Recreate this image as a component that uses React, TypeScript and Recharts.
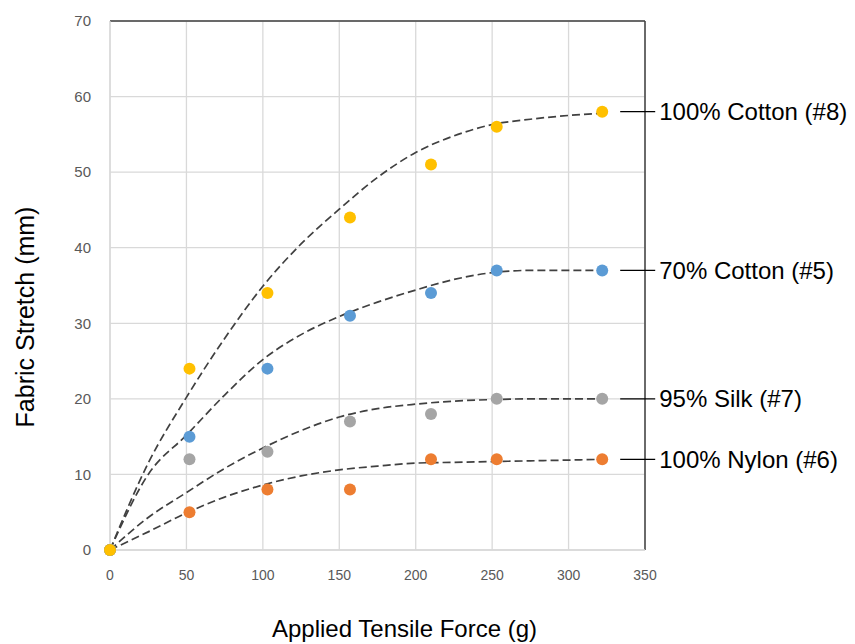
import { ComposedChart, Scatter, Line, XAxis, YAxis, CartesianGrid, ReferenceLine, Label } from "recharts";

const FONT = "'Liberation Sans', Arial, sans-serif";
const LINE = "#404040";

// measured points
const forceX = [0, 52, 103, 157, 210, 253, 322];
const cotton8 = [0, 24, 34, 44, 51, 56, 58];
const cotton5 = [0, 15, 24, 31, 34, 37, 37];
const silk7 = [0, 12, 13, 17, 18, 20, 20];
const nylon6 = [0, 5, 8, 8, 12, 12, 12];

// trendline values
const trendX = [0, 25, 50, 75, 100, 125, 150, 175, 200, 225, 250, 275, 300, 322];
const cotton8Trend = [0, 11.5, 20.2, 28, 34.9, 40.5, 45.1, 49.3, 52.6, 54.8, 56.3, 57, 57.5, 57.8];
const cotton5Trend = [0, 10, 15.2, 20.5, 25.2, 28.5, 30.9, 32.8, 34.4, 35.8, 36.7, 37, 37, 37];
const silk7Trend = [0, 4.3, 7.6, 10.8, 13.5, 15.8, 17.6, 18.7, 19.3, 19.7, 19.9, 20, 20, 20];
const nylon6Trend = [0, 2.4, 4.9, 7, 8.6, 9.8, 10.6, 11.1, 11.5, 11.6, 11.7, 11.8, 11.9, 12];

const xTicks = [0, 50, 100, 150, 200, 250, 300, 350];
const yTicks = [0, 10, 20, 30, 40, 50, 60, 70];

const series = [
  { name: "100% Nylon (#6)", color: "#ED7D31", values: nylon6, trend: nylon6Trend },
  { name: "95% Silk (#7)", color: "#A5A5A5", values: silk7, trend: silk7Trend },
  { name: "70% Cotton (#5)", color: "#5B9BD5", values: cotton5, trend: cotton5Trend },
  { name: "100% Cotton (#8)", color: "#FFC000", values: cotton8, trend: cotton8Trend },
];

const toPoints = (xs: number[], ys: number[]) => xs.map((x, i) => ({ x, y: ys[i] }));

const labelPoints = series.map((s) => ({
  x: forceX[forceX.length - 1],
  y: s.values[s.values.length - 1],
  name: s.name,
}));

const dot = (color: string) => (props: any) => (
  <circle cx={props.cx} cy={props.cy} r={6} fill={color} />
);

const endLabel = (props: any) => {
  const { cx, cy, payload } = props;
  return (
    <g>
      <line x1={cx + 18} x2={cx + 53} y1={cy} y2={cy} stroke="#000" strokeWidth={1.3} />
      <text x={cx + 57} y={cy} dy="0.35em" fontSize={24} fill="#000" fontFamily={FONT}>
        {payload.name}
      </text>
    </g>
  );
};

export default function App() {
  return (
    <div style={{ position: "fixed", left: 0, top: 0, background: "#fff" }}>
      <ComposedChart width={855} height={644} margin={{ top: 21, right: 210, bottom: 0, left: 0 }}>
        <CartesianGrid stroke="#D9D9D9" strokeWidth={1.3} />
        <XAxis
          type="number"
          dataKey="x"
          domain={[0, 350]}
          ticks={xTicks}
          height={94}
          axisLine={{ stroke: "#D9D9D9", strokeWidth: 1.3 }}
          tickLine={false}
          tickMargin={14}
          tick={{ fontSize: 14, fill: "#595959", fontFamily: FONT }}
        >
          <Label
            value="Applied Tensile Force (g)"
            position="insideBottom"
            offset={7}
            dx={27}
            style={{ fontSize: 24, fill: "#000", fontFamily: FONT }}
          />
        </XAxis>
        <YAxis
          type="number"
          dataKey="y"
          domain={[0, 70]}
          ticks={yTicks}
          width={110}
          axisLine={{ stroke: "#D9D9D9", strokeWidth: 1.3 }}
          tickLine={false}
          tickMargin={13}
          tick={{ fontSize: 15, fill: "#595959", fontFamily: FONT }}
        >
          <Label
            content={() => (
              <text
                x={25}
                y={317}
                transform="rotate(-90 25 317)"
                textAnchor="middle"
                dominantBaseline="central"
                fontSize={25}
                fill="#000"
                fontFamily={FONT}
              >
                Fabric Stretch (mm)
              </text>
            )}
          />
        </YAxis>
        <ReferenceLine y={70} stroke={LINE} strokeWidth={1.5} />
        <ReferenceLine x={350} stroke={LINE} strokeWidth={1.5} />
        {series.map((s) => (
          <Scatter
            key={s.name}
            name={s.name}
            data={toPoints(forceX, s.values)}
            dataKey="y"
            shape={dot(s.color)}
            isAnimationActive={false}
          />
        ))}
        {series.map((s) => (
          <Line
            key={s.name + "-trend"}
            data={toPoints(trendX, s.trend)}
            dataKey="y"
            type="monotone"
            stroke={LINE}
            strokeWidth={1.7}
            strokeDasharray="8 4"
            dot={false}
            activeDot={false}
            isAnimationActive={false}
          />
        ))}
        <Scatter data={labelPoints} dataKey="y" shape={endLabel} isAnimationActive={false} />
      </ComposedChart>
    </div>
  );
}
